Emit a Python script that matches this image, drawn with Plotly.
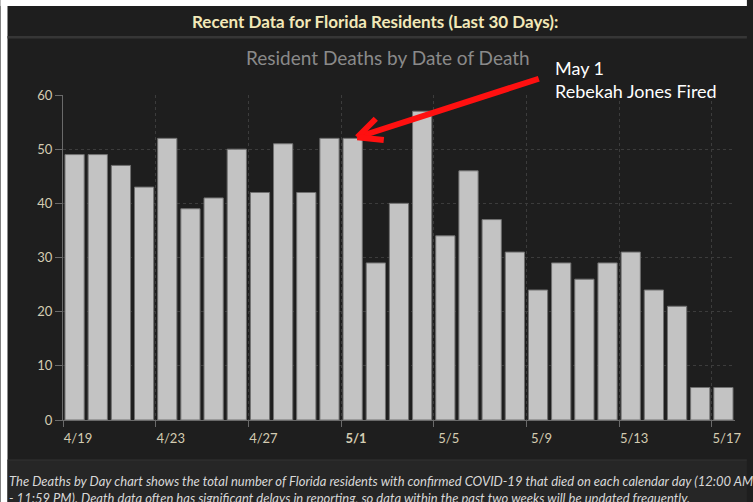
import plotly.graph_objects as go

# ---- data ----
dates = ["4/19", "4/20", "4/21", "4/22", "4/23", "4/24", "4/25", "4/26", "4/27", "4/28",
         "4/29", "4/30", "5/1", "5/2", "5/3", "5/4", "5/5", "5/6", "5/7", "5/8",
         "5/9", "5/10", "5/11", "5/12", "5/13", "5/14", "5/15", "5/16", "5/17"]
deaths = [49, 49, 47, 43, 52, 39, 41, 50, 42, 51,
          42, 52, 52, 29, 40, 57, 34, 46, 37, 31,
          24, 29, 26, 29, 31, 24, 21, 6, 6]
tick_labels = ["4/19", "4/23", "4/27", "<b>5/1</b>", "5/5", "5/9", "5/13", "5/17"]
y_ticks = [0, 10, 20, 30, 40, 50, 60]

title_text = "Recent Data for Florida Residents (Last 30 Days):"
subtitle_text = "Resident Deaths by Date of Death"
note_text = "May 1<br>Rebekah Jones Fired"
footer_text = ("The Deaths by Day chart shows the total number of Florida residents with confirmed "
               "COVID-19 that died on each calendar day (12:00 AM<br>- 11:59 PM). Death data often "
               "has significant delays in reporting, so data within the past two weeks will be updated frequently.")

# ---- layout geometry (pixels) ----
W, H = 753, 502
L, R, T, B = 63, 741, 95, 420


def px(x):
    return (x - L) / (R - L)


def py(y):
    return (B - y) / (B - T)


idx = list(range(len(dates)))
tick_pos = [dates.index(t.replace("<b>", "").replace("</b>", "")) - 0.5 for t in tick_labels]

BG = "#1e1e1e"
fig = go.Figure()
fig.add_trace(go.Bar(
    x=idx, y=deaths,
    marker=dict(color="#c3c3c3", line=dict(color="#707070", width=1)),
    hovertext=dates, hoverinfo="text+y",
))

shapes = [
    # white outer strips
    dict(type="rect", xref="paper", yref="paper", x0=px(0), x1=px(W), y0=py(0), y1=py(6),
         fillcolor="white", line_width=0, layer="below"),
    dict(type="rect", xref="paper", yref="paper", x0=px(0), x1=px(7), y0=py(0), y1=py(H),
         fillcolor="white", line_width=0, layer="below"),
    # title bar separator
    dict(type="rect", xref="paper", yref="paper", x0=px(7), x1=px(W), y0=py(36), y1=py(38.5),
         fillcolor="#363636", line_width=0, layer="below"),
    # footer panel
    dict(type="rect", xref="paper", yref="paper", x0=px(7), x1=px(W), y0=py(460), y1=py(H),
         fillcolor="#262626", line_width=0, layer="below"),
    dict(type="line", xref="paper", yref="paper", x0=px(7), x1=px(W), y0=py(460), y1=py(460),
         line=dict(color="#333333", width=1), layer="below"),
]

annotations = [
    dict(text="<b>" + title_text + "</b>", xref="paper", yref="paper", x=px(378), y=py(21),
         xanchor="center", yanchor="middle", showarrow=False,
         font=dict(family="Liberation Sans Narrow, Arial Narrow, Lato, sans-serif", size=17, color="#f2e8b8")),
    dict(text=subtitle_text, xref="paper", yref="paper", x=px(391), y=py(57),
         xanchor="center", yanchor="middle", showarrow=False,
         font=dict(family="Lato, Open Sans, sans-serif", size=19, color="#8a8a8a")),
    dict(text=note_text, xref="paper", yref="paper", x=px(557), y=py(80),
         xanchor="left", yanchor="middle", align="left", showarrow=False,
         font=dict(family="Lato, Open Sans, sans-serif", size=18, color="#ffffff")),
    dict(text="<i>" + footer_text + "</i>", xref="paper", yref="paper", x=px(7), y=py(471),
         xanchor="left", yanchor="top", align="left", showarrow=False,
         font=dict(family="Lato, Open Sans, sans-serif", size=13, color="#d8d8d8")),
]

# red arrow pointing at the 5/1 bar (shaft + two chevron arms)
head_x = dates.index("5/1") + 0.2
head_y = deaths[dates.index("5/1")] + 0.2
for dx, dy in [(183, -59), (20, -20), (28, 3)]:
    annotations.append(dict(text="", x=head_x, y=head_y, xref="x", yref="y",
                            ax=dx, ay=dy, axref="pixel", ayref="pixel",
                            showarrow=True, arrowhead=0, arrowwidth=6, arrowcolor="#ff1010",
                            standoff=0, startstandoff=0))

fig.update_layout(
    width=W, height=H,
    margin=dict(l=L, r=W - R, t=T, b=H - B, pad=0),
    paper_bgcolor=BG, plot_bgcolor="rgba(0,0,0,0)",
    bargap=0.17, showlegend=False,
    shapes=shapes, annotations=annotations,
    font=dict(family="Lato, Open Sans, sans-serif", color="#d4ccb2"),
)
fig.update_xaxes(
    range=[-0.5, len(dates) - 0.5],
    tickmode="array", tickvals=tick_pos, ticktext=tick_labels,
    ticklabelshift=15, ticks="outside", ticklen=6, tickcolor="#6a6a6a",
    showline=True, linecolor="#6a6a6a", linewidth=1,
    showgrid=True, gridcolor="#3c3c3c", griddash="3px,3px", gridwidth=1,
    zeroline=False, tickfont=dict(size=13, color="#d4ccb2"),
)
fig.update_yaxes(
    range=[0, 60], tickmode="array", tickvals=y_ticks,
    ticks="outside", ticklen=7, tickcolor="#6a6a6a",
    showline=True, linecolor="#6a6a6a", linewidth=1,
    showgrid=True, gridcolor="#3c3c3c", griddash="3px,3px", gridwidth=1,
    zeroline=False, tickfont=dict(size=13, color="#d4ccb2"),
)

fig.write_html(
    "out.html",
    config={"displayModeBar": False},
    post_script="document.body.style.margin='0';document.body.style.overflow='hidden';",
)
